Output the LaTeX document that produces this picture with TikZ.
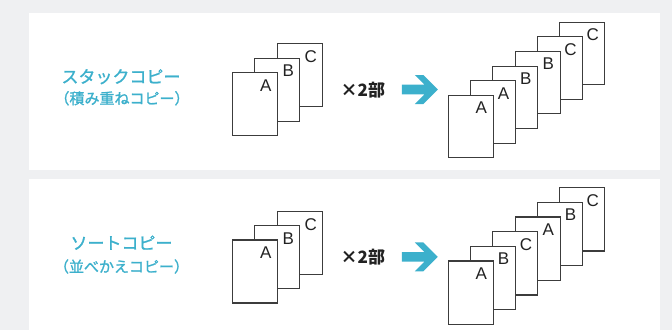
\documentclass[tikz,border=0pt]{standalone}
\usepackage{fontspec}
\newfontfamily\jpfont{Noto Sans CJK JP}
\newfontfamily\jpmid[FakeBold=1.2]{Noto Sans CJK JP}
\newfontfamily\latfont{Liberation Sans}
\definecolor{bggray}{RGB}{239,240,242}
\definecolor{tealc}{RGB}{60,176,204}
\definecolor{pagegray}{RGB}{60,60,60}
\definecolor{inkc}{RGB}{34,34,34}
\begin{document}
\begin{tikzpicture}[x=1pt,y=-1pt,
  page/.style={draw=pagegray, fill=white, line width=1.1pt, minimum width=45pt, minimum height=63pt, anchor=north west, inner sep=0pt, outer sep=0pt},
  letter/.style={font=\latfont\fontsize{17}{17}\selectfont, text=inkc, inner sep=0pt, anchor=center},
  title/.style={font=\jpmid\fontsize{17}{20}\selectfont, text=tealc, inner sep=0pt, anchor=center},
  subtitle/.style={font=\jpmid\fontsize{15}{17}\selectfont, text=tealc, inner sep=0pt, anchor=center},
  times/.style={font=\jpfont\bfseries\fontsize{17}{20}\selectfont, text=inkc, inner sep=0pt, anchor=west},
  bigarrow/.style={fill=tealc}]
\useasboundingbox (0,0) rectangle (672,330);
\fill[bggray] (0,0) rectangle (672,330);
\fill[white] (28.5,13) rectangle (660,169.5);
\fill[white] (28.5,178.5) rectangle (660,330);

% ---------- top panel ----------
\node[title] (t1) at (121,76.7) {スタックコピー};
\node[subtitle] (t2) at (122,98.3) {（積み重ねコピー）};
\foreach \i/\l in {2/C,1/B,0/A} {
  \node[page] (tl-\l) at ({232.3+22.5*\i},{72.7-14.5*\i}) {};
  \node[letter] (tl-\l-t) at ({232.3+22.5*\i+33.5},{72.7-14.5*\i+12.8}) {\l};
}
\node[times] (tx) at (340.5,90) {×2部};
\begin{scope}[shift={(437.8,89.5)}]
  \fill[bigarrow] (0,0) -- (-14.5,-14.5) -- (-23,-14.5) -- (-13.3,-4.8) -- (-36,-4.8) -- (-36,4.8) -- (-13.3,4.8) -- (-23,14.5) -- (-14.5,14.5) -- cycle;
\end{scope}
\foreach \i/\l in {5/C,4/C,3/B,2/B,1/A,0/A} {
  \node[page, minimum height=62.4pt] (tr-\i) at ({448.3+22.3*\i},{95.3-14.6*\i}) {};
  \node[letter] (tr-\i-t) at ({448.3+22.3*\i+33},{95.3-14.6*\i+12.5}) {\l};
}

% ---------- bottom panel ----------
\node[title] (b1) at (121.5,242.7) {ソートコピー};
\node[subtitle] (b2) at (121.5,266.5) {（並べかえコピー）};
\foreach \i/\l in {2/C,1/B,0/A} {
  \node[page] (bl-\l) at ({232.3+22.5*\i},{240-14.3*\i}) {};
  \node[letter] (bl-\l-t) at ({232.3+22.5*\i+33.5},{240-14.3*\i+12.8}) {\l};
}
\node[times] (bx) at (340.5,257.5) {×2部};
\begin{scope}[shift={(437.8,256.8)}]
  \fill[bigarrow] (0,0) -- (-14.5,-14.5) -- (-23,-14.5) -- (-13.3,-4.8) -- (-36,-4.8) -- (-36,4.8) -- (-13.3,4.8) -- (-23,14.5) -- (-14.5,14.5) -- cycle;
\end{scope}
\foreach \i/\l in {5/C,4/B,3/A,2/C,1/B,0/A} {
  \node[page, minimum height=63.3pt] (br-\i) at ({448.3+22.3*\i},{261-14.66*\i}) {};
  \node[letter] (br-\i-t) at ({448.3+22.3*\i+33},{261-14.66*\i+12.5}) {\l};
}
\end{tikzpicture}
\end{document}
